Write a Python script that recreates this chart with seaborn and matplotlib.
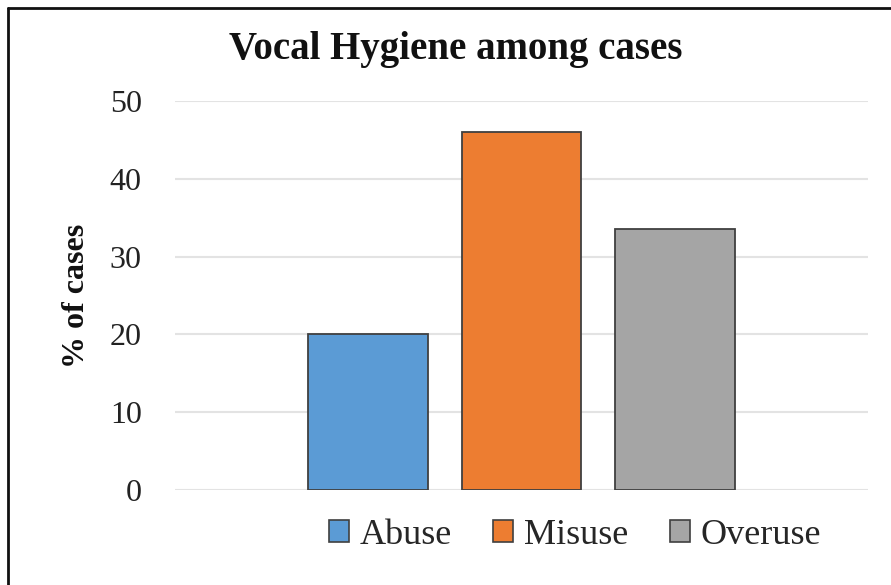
import matplotlib
matplotlib.use("Agg")
import matplotlib.pyplot as plt
from matplotlib.lines import Line2D
from matplotlib.patches import Patch
import seaborn as sns
import pandas as pd

# Vocal hygiene categories and share of cases (%)
categories = ["Abuse", "Misuse", "Overuse"]
percent_cases = [20.1, 46.0, 33.6]
colors = ["#5B9BD5", "#ED7D31", "#A5A5A5"]
y_ticks = [0, 10, 20, 30, 40, 50]

sns.set_theme(style="white")
plt.rcParams["font.family"] = ["Liberation Serif", "DejaVu Serif"]

df = pd.DataFrame({"category": categories, "percent": percent_cases})

W, H = 891, 585
fig = plt.figure(figsize=(W / 100, H / 100), dpi=100)
ax = fig.add_axes([175 / W, 1 - 490 / H, (868 - 175) / W, (490 - 101) / H])

sns.barplot(data=df, x="category", y="percent", hue="category",
            palette=colors, order=categories, hue_order=categories,
            width=0.78, saturation=1, edgecolor="#404040", linewidth=1.3,
            legend=False, ax=ax)

ax.set_ylim(0, 50)
ax.set_xlim(-1.257, 3.257)
ax.set_yticks(y_ticks)
ax.set_yticklabels([str(t) for t in y_ticks], fontsize=23, color="#222222")
ax.set_xticks([])
ax.set_xlabel("")
ax.set_ylabel("% of cases", fontsize=23, fontweight="bold", color="#111111")
ax.yaxis.set_label_coords((91 - 175) / (868 - 175), 0.5)
ax.tick_params(axis="y", length=0, pad=24)
ax.yaxis.grid(True, color="#E3E3E3", linewidth=1.5)
ax.set_axisbelow(True)
for s in ax.spines.values():
    s.set_visible(False)

fig.text(456 / W, 1 - 49 / H, "Vocal Hygiene among cases", ha="center",
         va="center", fontsize=28, fontweight="bold", color="#111111")

handles = [Patch(facecolor=c, edgecolor="#404040", linewidth=1.2) for c in colors]
fig.legend(handles, categories, loc="center", bbox_to_anchor=(575 / W, 1 - 535 / H),
           ncol=3, frameon=False, fontsize=26, handlelength=0.55, handleheight=0.55,
           handletextpad=0.3, columnspacing=1.15, borderpad=0)

# Frame around the chart area
fig.add_artist(Line2D([8 / W, 1.0], [1 - 8 / H, 1 - 8 / H], color="#111111", linewidth=2.0))
fig.add_artist(Line2D([8 / W, 8 / W], [0.0, 1 - 8 / H], color="#111111", linewidth=2.0))

fig.savefig("out.png", dpi=100, facecolor="white")
